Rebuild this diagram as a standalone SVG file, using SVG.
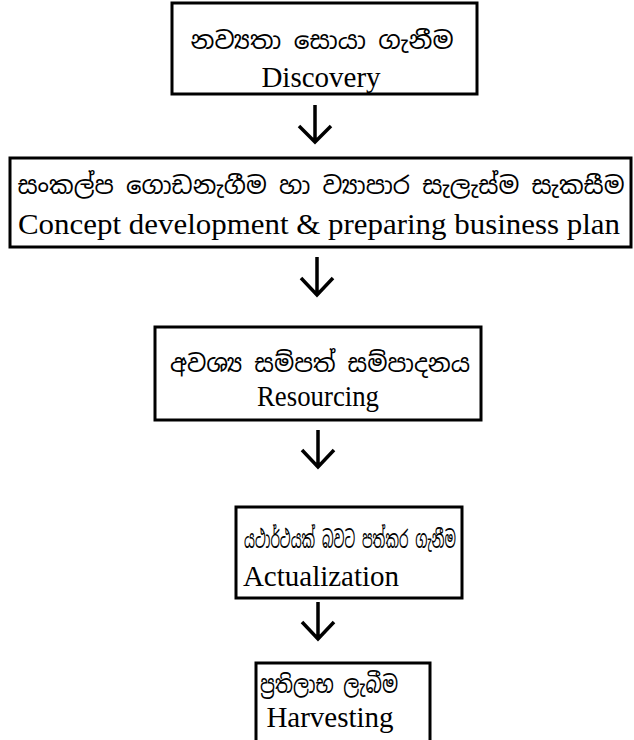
<svg xmlns="http://www.w3.org/2000/svg" width="634" height="740" viewBox="0 0 634 740">
<style>
.box{fill:#fff;stroke:#000;stroke-width:3}
.si{font-family:"Noto Sans Sinhala","Noto Serif Sinhala","Iskoola Pota","Noto Sans",sans-serif;font-size:24px;fill:#000;text-anchor:middle}
.en{font-family:"Liberation Serif","Times New Roman",serif;font-size:29px;fill:#000;text-anchor:middle}
.arr{fill:none;stroke:#000;stroke-width:3.5}
</style>
<rect width="634" height="740" fill="#fff"/>
<g id="connectors">
<path class="arr" d="M315 105V141M299 126L315 142L331 126"/>
<path class="arr" d="M317 257V294M301 278L317 295L333 278"/>
<path class="arr" d="M318 430V466M302 450L318 467L334 450"/>
<path class="arr" d="M318 602V638M302 622L318 639L334 622"/>
</g>
<g id="discovery">
<rect class="box" x="172" y="3" width="305" height="91"/>
<text class="si" x="322" y="49" textLength="263" lengthAdjust="spacingAndGlyphs">නව්‍යතා සොයා ගැනීම</text>
<text class="en" x="321" y="87">Discovery</text>
</g>
<g id="concept">
<rect class="box" x="10" y="158" width="621" height="89"/>
<text class="si" x="321" y="194" textLength="607" lengthAdjust="spacingAndGlyphs">සංකල්ප ගොඩනැගීම හා ව්‍යාපාර සැලැස්ම සැකසීම</text>
<text class="en" x="319" y="234" font-size="31" textLength="602" lengthAdjust="spacingAndGlyphs">Concept development &amp; preparing business plan</text>
</g>
<g id="resourcing">
<rect class="box" x="155" y="327" width="326" height="93"/>
<text class="si" x="320" y="372" textLength="300" lengthAdjust="spacingAndGlyphs">අවශ්‍ය සම්පත් සම්පාදනය</text>
<text class="en" x="318" y="406" textLength="122" lengthAdjust="spacingAndGlyphs">Resourcing</text>
</g>
<g id="actualization">
<rect class="box" x="236" y="507" width="226" height="91"/>
<text class="si" x="350" y="548" font-size="21" textLength="212" lengthAdjust="spacingAndGlyphs">යථාර්ථයක් බවට පත්කර ගැනීම</text>
<text class="en" x="321" y="586">Actualization</text>
</g>
<g id="harvesting">
<rect class="box" x="256" y="663" width="174" height="90"/>
<text class="si" x="329" y="693" font-size="22" textLength="138" lengthAdjust="spacingAndGlyphs">ප්‍රතිලාභ ලැබීම</text>
<text class="en" x="330" y="727" font-size="30">Harvesting</text>
</g>
</svg>
